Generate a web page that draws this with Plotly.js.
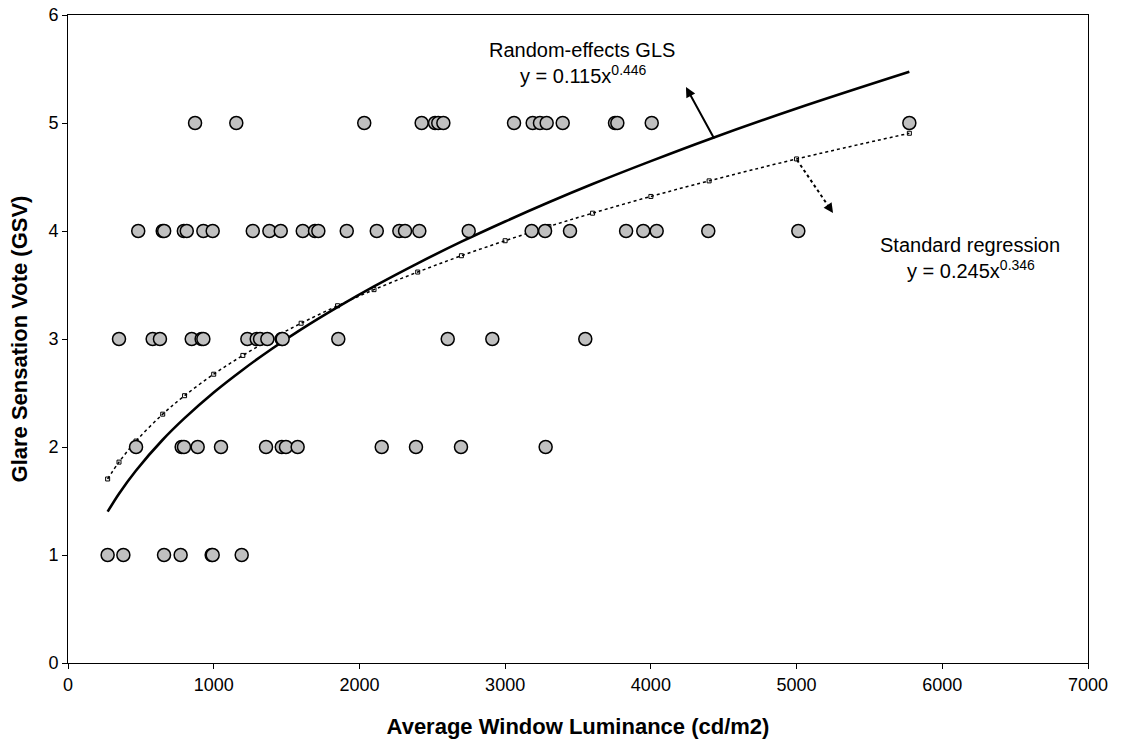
<!DOCTYPE html>
<html>
<head>
<meta charset="utf-8">
<script src="https://cdn.plot.ly/plotly-3.0.1.min.js"></script>
<style>html,body{margin:0;padding:0;background:#fff;}#chart{width:1125px;height:742px;}</style>
</head>
<body>
<div id="chart"></div>
<script>
// Observed votes: luminance values (cd/m2) for each Glare Sensation Vote level
var voteLevels = [5, 4, 3, 2, 1];
var lum5 = [872, 1155, 2033, 2427, 2519, 2541, 2576, 3061, 3189, 3239, 3285, 3395, 3754, 3770, 4006, 5774];
var lum4 = [482, 650, 660, 795, 815, 929, 993, 1268, 1382, 1460, 1611, 1695, 1718, 1913, 2119, 2274, 2313, 2411, 2750, 3182, 3274, 3445, 3830, 3948, 4040, 4394, 5012];
var lum3 = [350, 581, 631, 849, 917, 929, 1231, 1295, 1318, 1368, 1467, 1473, 1855, 2606, 2912, 3550];
var lum2 = [467, 780, 796, 890, 1050, 1359, 1467, 1496, 1576, 2153, 2388, 2697, 3278];
var lum1 = [272, 380, 659, 773, 986, 993, 1192];

// Fitted curves
var fitX  = [272, 350, 467, 650, 800, 1000, 1200, 1400, 1600, 1850, 2100, 2400, 2700, 3000, 3300, 3600, 4000, 4400, 5000, 5774];
var glsY  = [1.401, 1.568, 1.783, 2.067, 2.267, 2.505, 2.716, 2.910, 3.089, 3.295, 3.487, 3.701, 3.901, 4.088, 4.266, 4.435, 4.647, 4.850, 5.134, 5.474];
var stdY  = [1.704, 1.860, 2.055, 2.304, 2.475, 2.674, 2.848, 3.004, 3.146, 3.308, 3.457, 3.620, 3.771, 3.910, 4.042, 4.165, 4.320, 4.464, 4.667, 4.905];

var xTitle = "Average Window Luminance (cd/m2)";
var yTitle = "Glare Sensation Vote (GSV)";

var lumGroups = [lum5, lum4, lum3, lum2, lum1];
var obsX = [], obsY = [];
lumGroups.forEach(function(g, i){
  g.forEach(function(v){ obsX.push(v); obsY.push(voteLevels[i]); });
});

var FONT = "Liberation Sans, Arial, sans-serif";

var traces = [
  {
    x: fitX, y: stdY, type: 'scatter', mode: 'lines+markers',
    line: {color: '#000', width: 1.5, dash: 'dot', shape: 'spline'},
    marker: {symbol: 'square-open', size: 4, color: '#000', line: {width: 1}},
    hoverinfo: 'skip', showlegend: false
  },
  {
    x: fitX, y: glsY, type: 'scatter', mode: 'lines',
    line: {color: '#000', width: 2.6, shape: 'spline'},
    hoverinfo: 'skip', showlegend: false
  },
  {
    x: obsX, y: obsY, type: 'scatter', mode: 'markers',
    marker: {symbol: 'circle', size: 13, color: '#c0c0c0', line: {color: '#000', width: 1.5}},
    showlegend: false
  }
];

var layout = {
  width: 1125, height: 742,
  margin: {l: 68, r: 37, t: 15, b: 79},
  paper_bgcolor: '#fff', plot_bgcolor: '#fff',
  font: {family: FONT, color: '#000', size: 18},
  showlegend: false,
  xaxis: {
    range: [0, 7000], dtick: 1000, tick0: 0,
    showgrid: false, zeroline: false,
    showline: true, linecolor: '#000', linewidth: 1, mirror: true,
    ticks: 'outside', ticklen: 5, tickcolor: '#000',
    tickfont: {family: FONT, size: 18, color: '#000'},
    title: {text: xTitle, font: {family: FONT, size: 22, weight: 'bold', color: '#000'}, standoff: 25}
  },
  yaxis: {
    range: [0, 6], dtick: 1, tick0: 0,
    showgrid: false, zeroline: false,
    showline: true, linecolor: '#000', linewidth: 1, mirror: true,
    ticks: 'outside', ticklen: 5, tickcolor: '#000',
    tickfont: {family: FONT, size: 18, color: '#000'},
    title: {text: yTitle, font: {family: FONT, size: 22, weight: 'bold', color: '#000'}, standoff: 14}
  },
  annotations: [
    {xref: 'x', yref: 'y', x: 3527, y: 5.676, xanchor: 'center', yanchor: 'middle', showarrow: false,
     text: 'Random-effects GLS', font: {family: FONT, size: 20, color: '#000'}},
    {xref: 'x', yref: 'y', x: 3535, y: 5.45, xanchor: 'center', yanchor: 'middle', showarrow: false,
     text: 'y = 0.115x<sup>0.446</sup>', font: {family: FONT, size: 20, color: '#000'}},
    {xref: 'x', yref: 'y', x: 6190, y: 3.87, xanchor: 'center', yanchor: 'middle', showarrow: false,
     text: 'Standard regression', font: {family: FONT, size: 20, color: '#000'}},
    {xref: 'x', yref: 'y', x: 6195, y: 3.645, xanchor: 'center', yanchor: 'middle', showarrow: false,
     text: 'y = 0.245x<sup>0.346</sup>', font: {family: FONT, size: 20, color: '#000'}},
    {xref: 'x', yref: 'y', x: 4241, y: 5.333, axref: 'x', ayref: 'y', ax: 4440, ay: 4.843,
     text: '', showarrow: true, arrowhead: 2, arrowsize: 1, arrowwidth: 2, arrowcolor: '#000', standoff: 0, startstandoff: 0},
    {xref: 'x', yref: 'y', x: 5250, y: 4.167, axref: 'x', ayref: 'y', ax: 5205, ay: 4.257,
     text: '', showarrow: true, arrowhead: 2, arrowsize: 1.2, arrowwidth: 1.6, arrowcolor: '#000', standoff: 0, startstandoff: 0}
  ],
  shapes: [
    {type: 'line', xref: 'x', yref: 'y', x0: 5003, y0: 4.657, x1: 5210, y1: 4.247,
     line: {color: '#000', width: 2, dash: 'dot'}}
  ]
};

Plotly.newPlot('chart', traces, layout, {displayModeBar: false, staticPlot: true});
</script>
</body>
</html>
